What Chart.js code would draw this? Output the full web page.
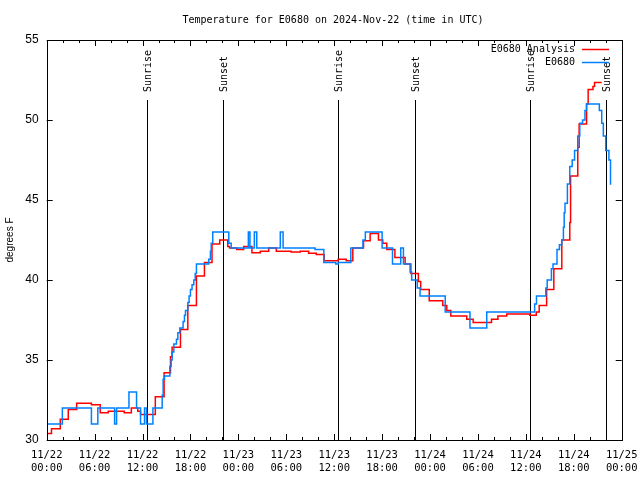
<!DOCTYPE html>
<html>
<head>
<meta charset="utf-8">
<script src="https://cdn.jsdelivr.net/npm/chart.js@4.4.1/dist/chart.umd.min.js"></script>
<style>
body{margin:0;background:#fff;}
</style>
</head>
<body>
<canvas id="tempChart" width="640" height="480"></canvas>
<script>
// hours since 2024-11-22 00:00 UTC
const anaHours = [0, 0.6, 1.7, 2.7, 3.75, 5.6, 6.7, 7.7, 9.7, 10.6, 11.4, 11.75, 13.6, 14.7, 15.5, 15.7, 16.75, 17.67, 18.75, 19.75, 20.7, 21.67, 22.67, 22.9, 23.8, 24.67, 25.7, 26.75, 27.8, 28.75, 30.6, 31.75, 32.8, 33.75, 34.75, 36.5, 37.5, 38.33, 39.67, 40.5, 41.54, 42.08, 42.58, 43.6, 44.88, 45.6, 46.54, 46.83, 47.9, 49.6, 50.1, 50.6, 52.6, 53.4, 55.7, 56.5, 57.6, 60.5, 61.3, 61.67, 62.6, 63.5, 64.5, 65.5, 65.6, 66.5, 66.67, 67.6, 67.8, 68.4, 68.6, 69.5];
const anaTemps = [30.4, 30.7, 31.3, 31.9, 32.3, 32.2, 31.7, 31.8, 31.7, 32.0, 31.8, 31.6, 32.7, 34.2, 35.2, 35.8, 36.9, 38.4, 40.25, 41.1, 42.25, 42.5, 42.1, 42.0, 41.9, 42.1, 41.7, 41.8, 42.0, 41.8, 41.75, 41.8, 41.67, 41.6, 41.2, 41.3, 41.2, 42.0, 42.45, 42.9, 42.5, 42.3, 41.9, 41.4, 41.0, 40.4, 39.9, 39.4, 38.7, 38.4, 38.1, 37.75, 37.55, 37.35, 37.55, 37.75, 37.87, 37.8, 38.0, 38.4, 39.4, 40.7, 42.5, 43.6, 46.5, 48.3, 49.75, 51.0, 51.9, 52.1, 52.35, 52.35];
const obsHours = [0, 1.96, 5.6, 6.4, 8.5, 8.75, 10.3, 11.25, 11.75, 12.25, 12.5, 13.3, 14.46, 14.58, 14.75, 15.42, 15.58, 15.71, 15.92, 16.25, 16.42, 16.67, 17.08, 17.25, 17.38, 17.67, 17.83, 18.0, 18.2, 18.42, 18.6, 18.75, 20.29, 20.5, 20.6, 20.79, 22.8, 23.1, 25.25, 25.45, 26.0, 26.3, 29.25, 29.6, 33.6, 34.7, 36.2, 36.5, 38.08, 39.6, 39.9, 42.0, 43.3, 44.33, 44.67, 45.5, 45.7, 46.4, 46.75, 49.9, 53.0, 55.1, 61.1, 61.33, 62.5, 62.67, 63.2, 63.4, 63.9, 64.2, 64.5, 64.7, 64.8, 64.9, 65.2, 65.5, 65.8, 66.1, 66.5, 66.75, 67.1, 67.4, 67.6, 69.2, 69.5, 69.7, 70.0, 70.4, 70.6, 70.7];
const obsTemps = [31, 32, 31, 32, 31, 32, 33, 32, 31, 32, 31, 32, 32.8, 33.8, 34.0, 34.6, 35.0, 35.5, 36.0, 36.3, 36.7, 37.0, 37.4, 37.8, 38.1, 38.6, 39.0, 39.4, 39.7, 40.0, 40.4, 41.0, 41.3, 41.8, 42.3, 43.0, 42.3, 42.0, 43.0, 42.0, 43.0, 42.0, 43.0, 42.0, 41.9, 41.1, 41.0, 41.1, 42.0, 42.5, 43.0, 42.0, 41.0, 42.0, 41.0, 40.5, 40.0, 39.5, 39.0, 38.0, 37.0, 38.0, 38.5, 39.0, 39.5, 40.0, 40.7, 41.0, 41.9, 42.2, 42.5, 43.3, 44.2, 44.8, 46.0, 47.1, 47.5, 48.1, 49.0, 49.8, 50.0, 50.6, 51.0, 50.6, 49.8, 49.0, 48.1, 47.5, 46.0, 46.0];
const sunHours = [12.6, 22.07, 36.5, 46.18, 60.53, 70.04];
const sunLabels = ['Sunrise', 'Sunset', 'Sunrise', 'Sunset', 'Sunrise', 'Sunset'];
const tickDates = ['11/22', '11/22', '11/22', '11/22', '11/23', '11/23', '11/23', '11/23', '11/24', '11/24', '11/24', '11/24', '11/25'];
const tickTimes = ['00:00', '06:00', '12:00', '18:00', '00:00', '06:00', '12:00', '18:00', '00:00', '06:00', '12:00', '18:00', '00:00'];

const mono = '"DejaVu Sans Mono", monospace';
const sans = '"Liberation Sans", Arial, sans-serif';

const gnuplotFrame = {
  id: 'gnuplotFrame',
  beforeDatasetsDraw(chart){
    const {ctx, chartArea:a, scales:{x}} = chart;
    ctx.save();
    ctx.strokeStyle = '#000';
    ctx.lineWidth = 1;
    ctx.fillStyle = '#000';
    ctx.font = '10px ' + mono;
    ctx.textAlign = 'left';
    ctx.textBaseline = 'middle';
    sunHours.forEach((h, i)=>{
      const px = Math.round(x.getPixelForValue(h)) + 0.5;
      ctx.beginPath();
      ctx.moveTo(px, a.top + 60);
      ctx.lineTo(px, a.bottom);
      ctx.stroke();
      ctx.save();
      ctx.translate(px + 1, a.top + 52);
      ctx.rotate(-Math.PI/2);
      ctx.fillText(sunLabels[i], 0, 0);
      ctx.restore();
    });
    ctx.restore();
  },
  afterDraw(chart){
    const {ctx, chartArea:a, scales:{x, y}} = chart;
    ctx.save();
    ctx.strokeStyle = '#000';
    ctx.lineWidth = 1;
    ctx.strokeRect(Math.round(a.left)+0.5, Math.round(a.top)+0.5, Math.round(a.right-a.left), Math.round(a.bottom-a.top));
    ctx.beginPath();
    for(let h = 0; h <= 72; h += 2){
      const px = Math.round(x.getPixelForValue(h)) + 0.5;
      const len = h % 6 === 0 ? 6 : 3;
      ctx.moveTo(px, a.bottom); ctx.lineTo(px, a.bottom - len);
      ctx.moveTo(px, a.top); ctx.lineTo(px, a.top + len);
    }
    for(let v = 30; v <= 55; v += 5){
      const py = Math.round(y.getPixelForValue(v)) + 0.5;
      ctx.moveTo(a.left, py); ctx.lineTo(a.left + 6, py);
      ctx.moveTo(a.right, py); ctx.lineTo(a.right - 6, py);
    }
    ctx.stroke();

    ctx.fillStyle = '#000';
    ctx.font = '10px ' + mono;
    ctx.textAlign = 'center';
    ctx.textBaseline = 'middle';
    ctx.fillText('Temperature for E0680 on 2024-Nov-22 (time in UTC)', 333, 20);

    // legend
    ctx.textAlign = 'right';
    const items = [['E0680 Analysis', '#ff0000', 49], ['E0680', '#0080ff', 62]];
    items.forEach(([label, color, ly])=>{
      ctx.fillStyle = '#000';
      ctx.fillText(label, 575, ly);
      ctx.strokeStyle = color;
      ctx.lineWidth = 1.5;
      ctx.beginPath();
      ctx.moveTo(582, ly + 0.5);
      ctx.lineTo(609, ly + 0.5);
      ctx.stroke();
    });
    ctx.restore();
  }
};

new Chart(document.getElementById('tempChart'), {
  type: 'line',
  data: {
    datasets: [
      { label: 'E0680', data: obsHours.map((h, i)=>({x: h, y: obsTemps[i]})), borderColor: '#0080ff', borderWidth: 1.5, stepped: 'before', pointRadius: 0, fill: false, order: 0 },
      { label: 'E0680 Analysis', data: anaHours.map((h, i)=>({x: h, y: anaTemps[i]})), borderColor: '#ff0000', borderWidth: 1.5, stepped: 'before', pointRadius: 0, fill: false, order: 1 }
    ]
  },
  options: {
    responsive: false,
    devicePixelRatio: 1,
    animation: false,
    layout: { padding: { top: 40, right: 18.3, left: 0, bottom: 0 } },
    plugins: { legend: { display: false }, title: { display: false }, tooltip: { enabled: false } },
    scales: {
      x: {
        type: 'linear', min: 0, max: 72,
        grid: { display: false, drawTicks: false, tickLength: 0 },
        border: { display: false },
        ticks: {
          stepSize: 6, autoSkip: false, maxRotation: 0, padding: 8, color: '#000',
          font: { family: mono, size: 10.5, lineHeight: 1.3 },
          callback: (v)=>{ const i = Math.round(v/6); return [tickDates[i], tickTimes[i]]; }
        },
        afterFit: (s)=>{ s.height = 40; s.paddingLeft = 0; s.paddingRight = 0; }
      },
      y: {
        min: 30, max: 55,
        grid: { display: false, drawTicks: false, tickLength: 0 },
        border: { display: false },
        ticks: { stepSize: 5, padding: 8, color: '#000', font: { family: sans, size: 12 } },
        title: { display: true, text: 'degrees F', color: '#000', font: { family: sans, size: 10 }, padding: { top: 4, bottom: 0 } },
        afterFit: (s)=>{ s.width = 46.7; }
      }
    }
  },
  plugins: [gnuplotFrame]
});
</script>
</body>
</html>
